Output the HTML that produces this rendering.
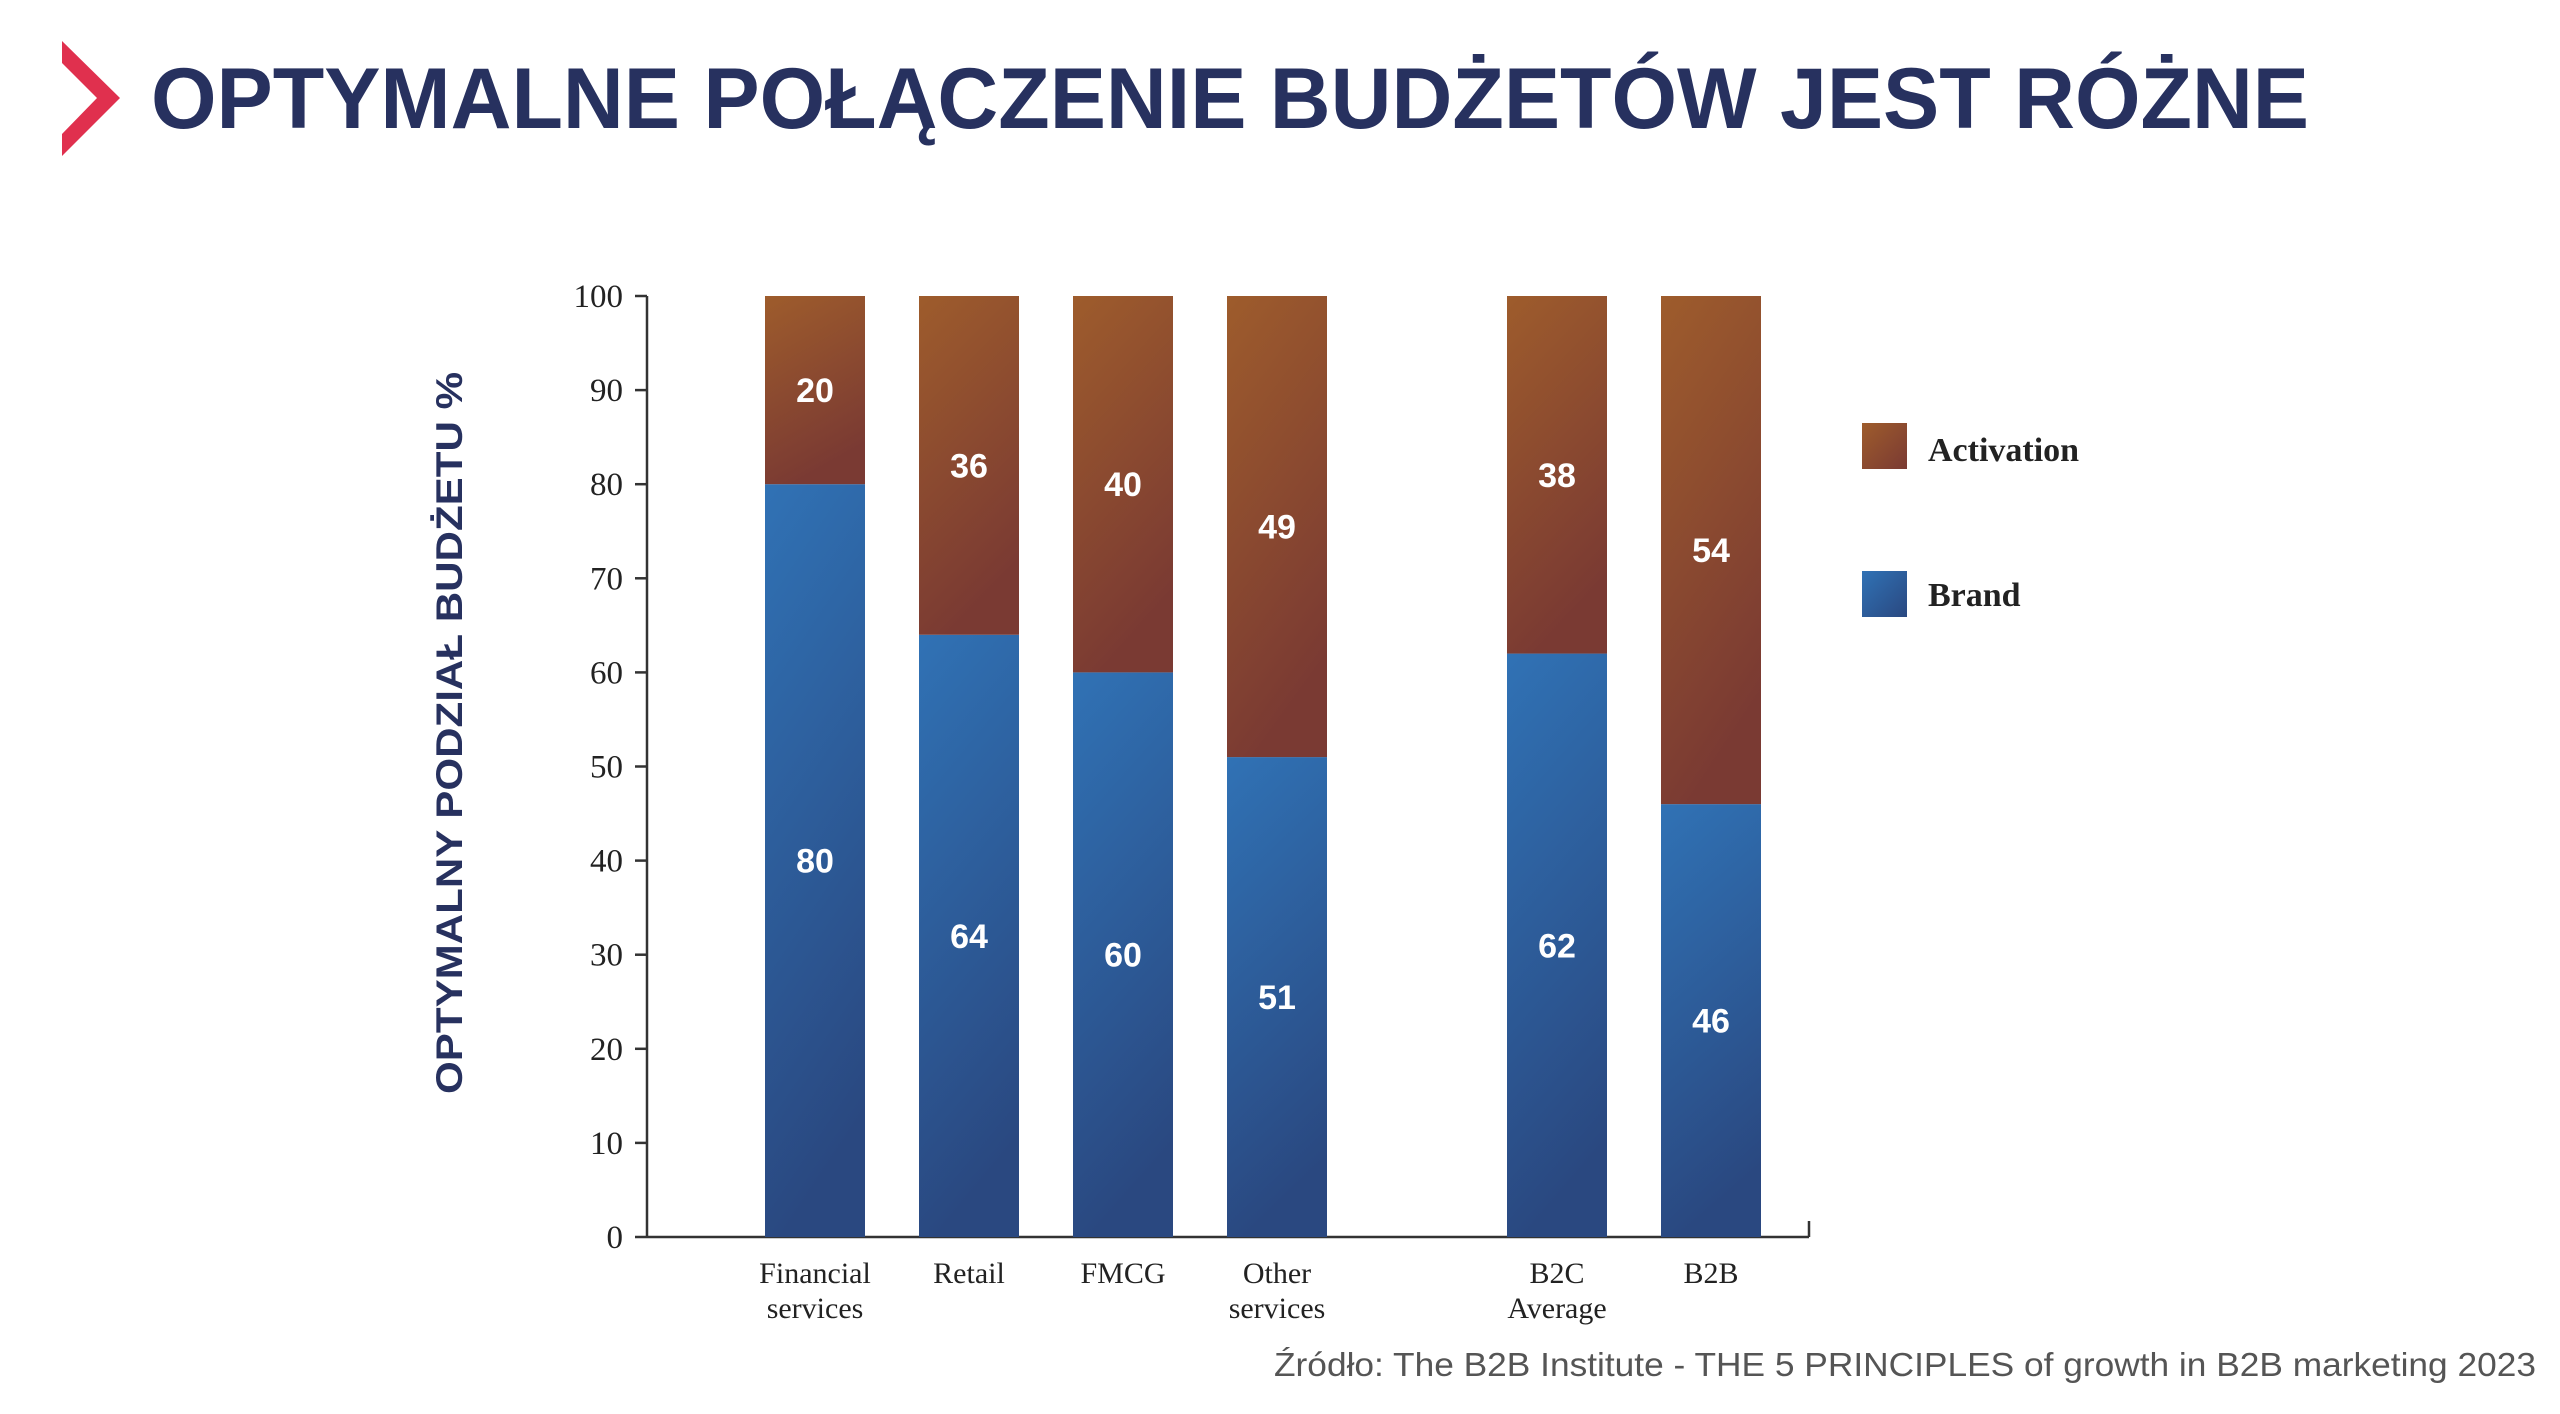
<!DOCTYPE html>
<html><head><meta charset="utf-8"><style>
html,body{margin:0;padding:0;background:#fff;width:2560px;height:1414px;overflow:hidden}
svg{display:block}
</style></head><body>
<svg id="chart" width="2560" height="1414" viewBox="0 0 2560 1414" xmlns="http://www.w3.org/2000/svg">
<defs>
<linearGradient id="gAct" x1="0" y1="0" x2="0.3" y2="1"><stop offset="0" stop-color="#9e5c2c"/><stop offset="1" stop-color="#7a3a33"/></linearGradient>
<linearGradient id="gBr" x1="0" y1="0" x2="0.2" y2="1"><stop offset="0" stop-color="#3072b5"/><stop offset="1" stop-color="#2a4880"/></linearGradient>
<linearGradient id="gActL" x1="0" y1="0" x2="1" y2="1"><stop offset="0" stop-color="#9e5c2c"/><stop offset="1" stop-color="#7a3a33"/></linearGradient>
<linearGradient id="gBrL" x1="0" y1="0" x2="1" y2="1"><stop offset="0" stop-color="#3072b5"/><stop offset="1" stop-color="#2a4880"/></linearGradient>
</defs>
<polygon points="62,41 120,98 62,156 62,134 97,98 62,63" fill="#e0304e"/>
<text x="151" y="128" font-family="Liberation Sans, sans-serif" font-weight="bold" font-size="86" fill="#27315f" textLength="2158" lengthAdjust="spacingAndGlyphs">OPTYMALNE POŁĄCZENIE BUDŻETÓW JEST RÓŻNE</text>
<text transform="translate(462,733) rotate(-90)" text-anchor="middle" font-family="Liberation Sans, sans-serif" font-weight="bold" font-size="37" fill="#27315f" textLength="722" lengthAdjust="spacingAndGlyphs">OPTYMALNY PODZIAŁ BUDŻETU %</text>
<g id="axes"></g>
<g id="bars"></g>
<rect x="1862" y="423" width="45" height="46" fill="url(#gActL)"/>
<text x="1928" y="461" font-family="Liberation Serif, serif" font-weight="bold" font-size="34" fill="#222">Activation</text>
<rect x="1862" y="571" width="45" height="46" fill="url(#gBrL)"/>
<text x="1928" y="606" font-family="Liberation Serif, serif" font-weight="bold" font-size="34" fill="#222">Brand</text>
<text x="2536" y="1376" text-anchor="end" font-family="Liberation Sans, sans-serif" font-size="33" fill="#555" textLength="1262" lengthAdjust="spacingAndGlyphs">Źródło: The B2B Institute - THE 5 PRINCIPLES of growth in B2B marketing 2023</text>
</svg>
<script>
const categoriesLine1 = ["Financial","Retail","FMCG","Other","B2C","B2B"];
const categoriesLine2 = ["services","","","services","Average",""];
const brandValues = [80,64,60,51,62,46];
const activationValues = [20,36,40,49,38,54];
const yTicks = [0,10,20,30,40,50,60,70,80,90,100];

const NS="http://www.w3.org/2000/svg";
const x0=647, xEnd=1809, yTop=296, yBot=1237;
const centers=[815,969,1123,1277,1557,1711];
const barW=100;
function yScale(v){return yBot-(v/100)*(yBot-yTop);}
function xScale(i){return centers[i];}
function mk(tag,attrs,parent,text){const e=document.createElementNS(NS,tag);for(const k in attrs)e.setAttribute(k,attrs[k]);if(text!==undefined)e.textContent=text;parent.appendChild(e);return e;}
const axes=document.getElementById('axes'), bars=document.getElementById('bars');
let e;
e=mk('line',{x1:x0,y1:yTop,x2:x0,y2:yBot,stroke:'#333','stroke-width':2.5},axes);


e=mk('line',{x1:x0,y1:yBot,x2:xEnd,y2:yBot,stroke:'#333','stroke-width':2.5},axes);


e=mk('line',{x1:xEnd,y1:yBot,x2:xEnd,y2:yBot-16,stroke:'#333','stroke-width':2.5},axes);


yTicks.forEach(t=>{
  const y=yScale(t);
  e=mk('line',{x1:x0-12,y1:y,x2:x0,y2:y,stroke:'#333','stroke-width':2.5},axes);
  
  
  e=mk('text',{x:x0-24,y:y+11,'text-anchor':'end','font-family':'Liberation Serif, serif','font-size':33,fill:'#222'},axes,String(t));
  
  
});
categoriesLine1.forEach((c,i)=>{
  const cx=xScale(i), b=brandValues[i], a=activationValues[i];
  e=mk('rect',{x:cx-barW/2,y:yScale(b),width:barW,height:yBot-yScale(b),fill:'url(#gBr)'},bars);
  
  
  e=mk('rect',{x:cx-barW/2,y:yScale(b+a),width:barW,height:yScale(b)-yScale(b+a),fill:'url(#gAct)'},bars);
  
  
  e=mk('text',{x:cx,y:yScale(b/2)+12,'text-anchor':'middle','font-family':'Liberation Sans, sans-serif','font-weight':'bold','font-size':34,fill:'#fff'},bars,String(b));
  
  
  e=mk('text',{x:cx,y:yScale(b+a/2)+12,'text-anchor':'middle','font-family':'Liberation Sans, sans-serif','font-weight':'bold','font-size':34,fill:'#fff'},bars,String(a));
  
  
  e=mk('text',{x:cx,y:1283,'text-anchor':'middle','font-family':'Liberation Serif, serif','font-size':30,fill:'#222'},bars,c);
  
  
  if(categoriesLine2[i]){
    e=mk('text',{x:cx,y:1318,'text-anchor':'middle','font-family':'Liberation Serif, serif','font-size':30,fill:'#222'},bars,categoriesLine2[i]);
    
    
  }
});
</script>
</body></html>
